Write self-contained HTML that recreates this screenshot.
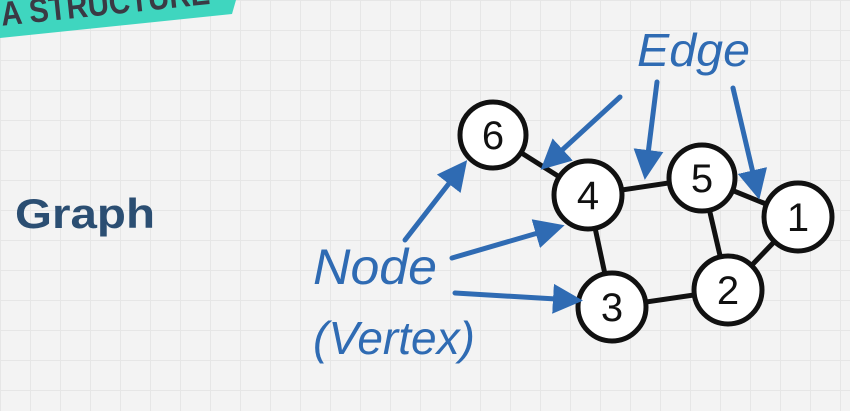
<!DOCTYPE html>
<html><head><style>
body{margin:0;width:850px;height:411px;overflow:hidden;background:#f3f3f3;
background-image:linear-gradient(#e6e6e6 1px,transparent 1px),linear-gradient(90deg,#e6e6e6 1px,transparent 1px);background-size:30px 30px;}
</style></head><body>
<svg width="850" height="411" style="position:absolute;left:0;top:0" font-family="Liberation Sans, sans-serif">
<defs><marker id="a" markerWidth="6" markerHeight="6" refX="4" refY="3" orient="auto" markerUnits="strokeWidth"><path d="M0,0 L6,3 L0,6 z" fill="#2f6bb3"/></marker></defs>
<polygon points="0,0 236,0 232,14 0,38" fill="#3fd6bf"/>
<text x="2" y="26" font-size="34" font-weight="bold" fill="#3a3a44" transform="rotate(-6 0 26)" textLength="210" lengthAdjust="spacingAndGlyphs">A STRUCTURE</text>
<text x="15" y="228" font-size="42" font-weight="bold" fill="#2b4e72" textLength="140" lengthAdjust="spacingAndGlyphs">Graph</text>
<g font-style="italic" fill="#2f6bb3">
<text x="637" y="66" font-size="46" textLength="113" lengthAdjust="spacingAndGlyphs">Edge</text>
<text x="313" y="284" font-size="50" textLength="124" lengthAdjust="spacingAndGlyphs">Node</text>
<text x="313" y="354" font-size="46" textLength="162" lengthAdjust="spacingAndGlyphs">(Vertex)</text>
</g>
<g stroke="#111" stroke-width="5">
<line x1="493" y1="135" x2="588" y2="195"/><line x1="588" y1="195" x2="702" y2="178"/>
<line x1="702" y1="178" x2="798" y2="217"/><line x1="702" y1="178" x2="728" y2="290"/>
<line x1="798" y1="217" x2="728" y2="290"/><line x1="588" y1="195" x2="612" y2="307"/>
<line x1="612" y1="307" x2="728" y2="290"/>
</g>
<g fill="#fff" stroke="#111" stroke-width="5">
<circle cx="493" cy="135" r="33"/><circle cx="588" cy="195" r="34"/><circle cx="702" cy="178" r="33"/>
<circle cx="798" cy="217" r="34"/><circle cx="728" cy="290" r="34"/><circle cx="612" cy="307" r="34"/>
</g>
<g font-size="40" fill="#111" text-anchor="middle">
<text x="493" y="149">6</text><text x="588" y="209">4</text><text x="702" y="192">5</text>
<text x="798" y="231">1</text><text x="728" y="304">2</text><text x="612" y="321">3</text>
</g>
<g stroke="#2f6bb3" stroke-width="5" stroke-linecap="round" fill="none" marker-end="url(#a)">
<line x1="620" y1="97" x2="548" y2="163"/><line x1="657" y1="82" x2="646" y2="170"/>
<line x1="733" y1="88" x2="757" y2="190"/><line x1="405" y1="240" x2="461" y2="168"/>
<line x1="452" y1="258" x2="555" y2="228"/><line x1="455" y1="293" x2="573" y2="300"/>
</g>
</svg>
</body></html>
